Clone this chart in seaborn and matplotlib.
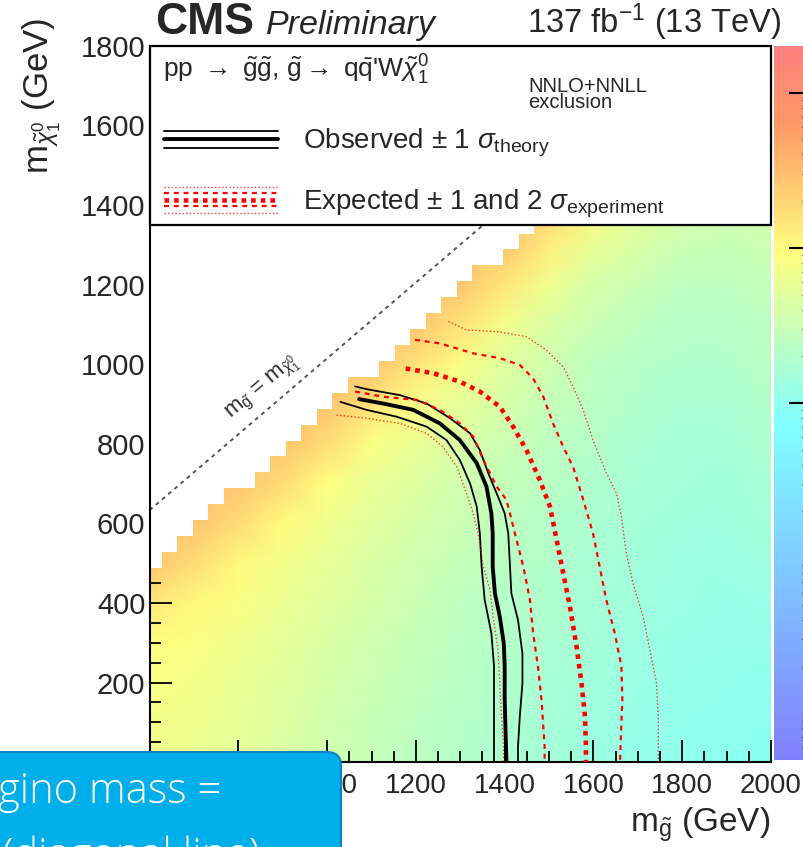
import numpy as np
import pandas as pd
import matplotlib
matplotlib.use("Agg")
import matplotlib.pyplot as plt
import seaborn as sns
from matplotlib.colors import LinearSegmentedColormap, Normalize, ListedColormap
from matplotlib.patches import Rectangle, FancyBboxPatch
from matplotlib.legend_handler import HandlerBase
from matplotlib.lines import Line2D
from matplotlib.ticker import MultipleLocator
from matplotlib.cm import ScalarMappable
from matplotlib.transforms import IdentityTransform

# ---------------- data ----------------
mgluino_nodes = [600, 700, 800, 900, 1000, 1100, 1200, 1300, 1400, 1500, 1600, 1700, 1800, 1900, 2000]
mlsp_nodes = [0, 100, 200, 300, 400, 500, 600, 700, 800, 900, 1000, 1100, 1200, 1300, 1400, 1500, 1600, 1700, 1800]
# log10(95% CL upper limit / pb) read along each gluino-mass column, from m_LSP = 0 upward
log10_limit_cols = [
    [-1.17, -1.13, -1.08, -1.03, -0.85, -0.57],
    [-1.22, -1.17, -1.13, -1.08, -0.99, -0.76, -0.57],
    [-1.26, -1.24, -1.22, -1.17, -1.08, -0.99, -0.76, -0.57],
    [-1.36, -1.33, -1.31, -1.26, -1.20, -1.13, -1.01, -0.76, -0.57],
    [-1.45, -1.43, -1.40, -1.36, -1.31, -1.24, -1.17, -1.03, -0.76, -0.57],
    [-1.54, -1.52, -1.49, -1.45, -1.40, -1.36, -1.29, -1.22, -1.08, -0.80, -0.57],
    [-1.61, -1.59, -1.56, -1.54, -1.49, -1.45, -1.40, -1.33, -1.22, -1.08, -0.80, -0.57],
    [-1.68, -1.66, -1.63, -1.61, -1.59, -1.54, -1.49, -1.45, -1.36, -1.26, -1.08, -0.80, -0.57],
    [-1.75, -1.72, -1.70, -1.68, -1.66, -1.63, -1.59, -1.54, -1.49, -1.40, -1.31, -1.13, -0.85, -0.57],
    [-1.82, -1.79, -1.77, -1.75, -1.72, -1.70, -1.68, -1.63, -1.59, -1.54, -1.45, -1.36, -1.17, -0.90, -0.62],
    [-1.89, -1.86, -1.84, -1.82, -1.79, -1.77, -1.75, -1.72, -1.68, -1.63, -1.59, -1.49, -1.40, -1.22, -0.99, -0.71],
    [-1.95, -1.93, -1.91, -1.89, -1.86, -1.84, -1.82, -1.77, -1.75, -1.70, -1.66, -1.59, -1.49, -1.36, -1.22, -0.99, -0.71],
    [-2.00, -1.98, -1.95, -1.93, -1.91, -1.89, -1.86, -1.82, -1.79, -1.75, -1.70, -1.66, -1.59, -1.49, -1.36, -1.17, -0.99, -0.71],
    [-2.02, -2.00, -1.98, -1.95, -1.93, -1.91, -1.86, -1.84, -1.79, -1.75, -1.70, -1.66, -1.59, -1.52, -1.43, -1.31, -1.17, -0.99, -0.71],
    [-2.05, -2.02, -2.00, -1.95, -1.91, -1.86, -1.82, -1.77, -1.72, -1.68, -1.63, -1.59, -1.54, -1.47, -1.40, -1.31, -1.17, -0.99, -0.71],
]
# histogram binning of the scan and kinematic gap (cells with m_LSP_top > m_gluino - gap are empty)
bin_mgluino_start, bin_mgluino_width = 592, 35
bin_mlsp_start, bin_mlsp_width = -32, 40
mass_gap = 95

obs_x = [1072, 1126, 1194, 1254, 1299, 1337, 1359, 1370, 1373, 1373, 1378, 1389, 1398, 1400, 1400, 1403, 1404]
obs_y = [912, 901, 885, 851, 809, 751, 692, 625, 575, 491, 424, 365, 298, 240, 156, 39, 0]
obs_up_x = [1063, 1089, 1164, 1224, 1277, 1322, 1344, 1363, 1382, 1400, 1408, 1412, 1415, 1430, 1440, 1440, 1434, 1430, 1430]
obs_up_y = [944, 937, 922, 901, 864, 826, 784, 726, 675, 625, 575, 491, 424, 357, 273, 198, 114, 39, 0]
obs_dn_x = [1030, 1089, 1156, 1224, 1269, 1299, 1322, 1337, 1344, 1348, 1355, 1370, 1376, 1376, 1376, 1376]
obs_dn_y = [905, 885, 868, 843, 809, 759, 700, 642, 575, 491, 407, 324, 240, 156, 39, 0]
exp_x = [1177, 1239, 1299, 1344, 1389, 1419, 1449, 1479, 1502, 1517, 1532, 1547, 1562, 1573, 1581, 1583, 1583]
exp_y = [989, 977, 956, 931, 893, 843, 784, 709, 642, 558, 474, 390, 290, 198, 114, 39, 0]
exp_p1_x = [1198, 1254, 1329, 1389, 1434, 1464, 1487, 1509, 1532, 1554, 1577, 1599, 1614, 1629, 1648, 1663, 1665, 1661, 1660]
exp_p1_y = [1061, 1052, 1027, 1015, 998, 964, 918, 851, 792, 742, 659, 575, 491, 407, 324, 240, 156, 39, 0]
exp_m1_x = [1063, 1126, 1202, 1254, 1299, 1329, 1352, 1382, 1404, 1423, 1442, 1457, 1464, 1475, 1483, 1490, 1490]
exp_m1_y = [931, 918, 910, 885, 851, 818, 759, 692, 659, 575, 491, 407, 324, 240, 156, 39, 0]
exp_p2_x = [1273, 1314, 1389, 1449, 1494, 1532, 1554, 1577, 1599, 1629, 1652, 1663, 1674, 1689, 1712, 1727, 1742, 1746, 1746, 1746]
exp_p2_y = [1107, 1086, 1081, 1069, 1035, 993, 943, 885, 809, 726, 675, 617, 525, 449, 365, 282, 198, 114, 39, 0]
exp_m2_x = [1021, 1089, 1164, 1224, 1261, 1292, 1314, 1329, 1340, 1352, 1367, 1374, 1385, 1389, 1393, 1397, 1398]
exp_m2_y = [872, 864, 851, 826, 792, 742, 675, 625, 575, 491, 432, 365, 282, 198, 114, 39, 0]
diag_x = [600, 1352]
diag_y = [633, 1350]

x_ticks = [600, 800, 1000, 1200, 1400, 1600, 1800, 2000]
y_ticks = [0, 200, 400, 600, 800, 1000, 1200, 1400, 1600, 1800]
z_range = (-4.3, 0.3)
z_ticks = [0, -1, -2]

# ---------------- style ----------------
sns.set_theme(style="ticks")
plt.rcParams["font.family"] = ["Liberation Sans", "DejaVu Sans"]
plt.rcParams["mathtext.fontset"] = "custom"
plt.rcParams["mathtext.rm"] = "Liberation Sans"
plt.rcParams["mathtext.it"] = "Liberation Sans:italic"
plt.rcParams["mathtext.bf"] = "Liberation Sans:bold"
plt.rcParams["mathtext.sf"] = "Liberation Sans"

W, H = 804, 847
fig = plt.figure(figsize=(W / 100, H / 100), dpi=100)
fig.patch.set_facecolor("white")


def px_rect(l, t, r, b):
    return [l / W, 1 - b / H, (r - l) / W, (b - t) / H]


ax = fig.add_axes(px_rect(149.6, 45.7, 771.0, 762.1))
ax.set_facecolor("white")

cmap = LinearSegmentedColormap.from_list(
    "cms_susy",
    [(0.0, (0.5, 0.5, 1.0)), (0.47, (0.5, 1.0, 1.0)), (0.71, (1.0, 1.0, 0.5)),
     (0.89, (1.0, 0.6, 0.4)), (1.0, (1.0, 0.5, 0.5))])
norm = Normalize(vmin=z_range[0], vmax=z_range[1])

# heat map of the limit
nrow = len(mlsp_nodes)
Z = np.array([col + [col[-1]] * (nrow - len(col)) for col in log10_limit_cols]).T
ax.pcolormesh(mgluino_nodes, mlsp_nodes, Z, shading="gouraud", cmap=cmap, norm=norm, zorder=0)

# empty (kinematically forbidden) cells of the scan
xe = np.arange(bin_mgluino_start, 2000 + bin_mgluino_width + 1, bin_mgluino_width)
ye = np.arange(bin_mlsp_start, 1800 + bin_mlsp_width + 1, bin_mlsp_width)
xc = 0.5 * (xe[:-1] + xe[1:])
ytop = ye[1:]
empty = ytop[:, None] > (xc[None, :] - mass_gap)
mask_arr = np.ma.masked_where(~empty, np.ones(empty.shape))
ax.pcolormesh(xe, ye, mask_arr, cmap=ListedColormap(["white"]), vmin=0, vmax=1,
              zorder=1, antialiased=False, edgecolor="none", linewidth=0)


def curve(x, y, **kw):
    df = pd.DataFrame({"m_gluino": x, "m_lsp": y})
    sns.lineplot(data=df, x="m_gluino", y="m_lsp", sort=False, estimator=None, ax=ax, **kw)


red = "#ff0000"
curve(diag_x, diag_y, color="#555555", linewidth=1.4, linestyle=(0, (2, 2.2)), zorder=2)
curve(obs_dn_x, obs_dn_y, color="black", linewidth=1.3, zorder=3)
curve(obs_up_x, obs_up_y, color="black", linewidth=1.3, zorder=3)
curve(obs_x, obs_y, color="black", linewidth=2.8, zorder=3)
curve(exp_m2_x, exp_m2_y, color=red, linewidth=1.0, linestyle=(0, (1, 1.6)), alpha=0.75, zorder=4)
curve(exp_p2_x, exp_p2_y, color=red, linewidth=1.0, linestyle=(0, (1, 1.6)), alpha=0.75, zorder=4)
curve(exp_m1_x, exp_m1_y, color=red, linewidth=1.6, linestyle=(0, (2.2, 2.2)), zorder=4)
curve(exp_p1_x, exp_p1_y, color=red, linewidth=1.6, linestyle=(0, (2.2, 2.2)), zorder=4)
curve(exp_x, exp_y, color=red, linewidth=3.3, linestyle=(0, (1, 1.1)), dash_capstyle="butt", zorder=4)

ax.text(855, 940, r"m$_{\tilde{\rm g}}$ = m$_{\tilde{\chi}^{0}_{1}}$", rotation=40.2,
        rotation_mode="anchor", ha="center", va="center", fontsize=16, color="#2a2a2a", zorder=2)

ax.set_xlim(600, 2000)
ax.set_ylim(0, 1800)
ax.set_xlabel("")
ax.set_ylabel("")
ax.set_xticks(x_ticks)
ax.set_yticks(y_ticks)
ax.xaxis.set_minor_locator(MultipleLocator(50))
ax.yaxis.set_minor_locator(MultipleLocator(50))
ax.tick_params(which="both", direction="in", top=False, right=False, width=1.3, color="black")
ax.tick_params(which="major", length=16)
ax.tick_params(which="minor", length=8)
ax.tick_params(axis="x", which="major", labelsize=20, pad=8)
ax.tick_params(axis="y", which="major", labelsize=21, pad=3)
for s in ["top", "right"]:
    ax.spines[s].set_visible(False)
for s in ["left", "bottom"]:
    ax.spines[s].set_color("black")
    ax.spines[s].set_linewidth(1.5)

# legend box
leg_bottom = (762.1 - 225) / 716.4
ax.add_patch(Rectangle((0, leg_bottom), 1, 1 - leg_bottom, transform=ax.transAxes, facecolor="white",
                       edgecolor="black", linewidth=1.6, zorder=4.5, clip_on=False))


class StackedLines:
    def __init__(self, styles):
        self.styles = styles


class StackedHandler(HandlerBase):
    def create_artists(self, legend, orig_handle, xdescent, ydescent, width, height, fontsize, trans):
        arts = []
        yc = height / 2 - ydescent
        for off, kw in orig_handle.styles:
            arts.append(Line2D([-xdescent, -xdescent + width], [yc + off, yc + off], transform=trans, **kw))
        return arts


thin_k = dict(color="black", linewidth=1.3)
thick_k = dict(color="black", linewidth=2.8)
dot_r = dict(color=red, linewidth=1.0, linestyle=(0, (1, 1.6)), alpha=0.75)
dash_r = dict(color=red, linewidth=1.6, linestyle=(0, (2.2, 2.2)))
thick_r = dict(color=red, linewidth=3.3, linestyle=(0, (1, 1.1)), dash_capstyle="butt")
obs_handle = StackedLines([(6.3, thin_k), (0, thick_k), (-6.3, thin_k)])
exp_handle = StackedLines([(9.4, dot_r), (4.7, dash_r), (0, thick_r), (-4.7, dash_r), (-9.4, dot_r)])
leg = ax.legend([obs_handle, exp_handle],
                [r"Observed $\pm$ 1 $\sigma_{\rm theory}$", r"Expected $\pm$ 1 and 2 $\sigma_{\rm experiment}$"],
                handler_map={StackedLines: StackedHandler()}, loc="upper left",
                bbox_to_anchor=(164 / W, 1 - 127 / H), bbox_transform=fig.transFigure,
                frameon=False, fontsize=20, handlelength=4.1, handletextpad=0.9,
                labelspacing=1.0, borderpad=0, borderaxespad=0, handleheight=1.0)
leg.set_zorder(6)

fig.text(163 / W, 1 - 78 / H,
         r"pp $\rightarrow$ $\tilde{\rm g}\tilde{\rm g}$, $\tilde{\rm g}$$\rightarrow$ q$\bar{\rm q}$'W$\tilde{\chi}^{0}_{1}$",
         fontsize=19, va="baseline", ha="left")
fig.text(528 / W, 1 - 92 / H, "NNLO+NNLL", fontsize=14.5, va="baseline", ha="left")
fig.text(528 / W, 1 - 108 / H, "exclusion", fontsize=14.5, va="baseline", ha="left")

# header
fig.text(155 / W, 1 - 34 / H, "CMS", fontsize=32, fontweight="bold", va="baseline", ha="left")
fig.text(266 / W, 1 - 34 / H, "Preliminary", fontsize=24.5, style="italic", va="baseline", ha="left")
fig.text(781 / W, 1 - 33 / H, r"137 fb$^{-1}$ (13 TeV)", fontsize=23.5, va="baseline", ha="right")

# axis titles
fig.text(770 / W, 1 - 832 / H, r"m$_{\tilde{\rm g}}$ (GeV)", fontsize=24, va="baseline", ha="right")
fig.text(42 / W, 1 - 18 / H, r"m$_{\tilde{\chi}^{0}_{1}}$ (GeV)", fontsize=25, rotation=90,
         va="top", ha="center")

# colour bar (partly outside the canvas, as in the reference crop)
cax = fig.add_axes(px_rect(774, 46, 810, 760))
cb = fig.colorbar(ScalarMappable(norm=norm, cmap=cmap), cax=cax)
cb.outline.set_visible(False)
cb.set_ticks(z_ticks)
minor = [np.log10(k) + d for d in range(-5, 1) for k in range(2, 10)]
cb.set_ticks([m for m in minor if z_range[0] < m < z_range[1]], minor=True)
cax.tick_params(which="both", direction="in", left=False, right=True, labelright=False, labelleft=False,
                color="black", width=1.5)
cax.tick_params(which="major", length=15)
cax.tick_params(which="minor", length=6, width=1.0)
cax.set_axisbelow(False)

# overlaid call-out box of the slide
box = FancyBboxPatch((-40, -60), 381, 60 + (H - 752), boxstyle="round,pad=0,rounding_size=14",
                     transform=IdentityTransform(), facecolor="#00aeea", edgecolor="#1283c2",
                     linewidth=1.5, zorder=10)
fig.add_artist(box)
fig.text(-2 / W, 1 - 803 / H, "gino mass =", color="white", fontsize=30,
         family=["Open Sans", "DejaVu Sans"], fontweight="light", va="baseline", ha="left", zorder=11)
fig.text(2 / W, 1 - 868 / H, "(diagonal line)", color="white", fontsize=30,
         family=["Open Sans", "DejaVu Sans"], fontweight="light", va="baseline", ha="left", zorder=11)

fig.savefig("out.png", dpi=100)
